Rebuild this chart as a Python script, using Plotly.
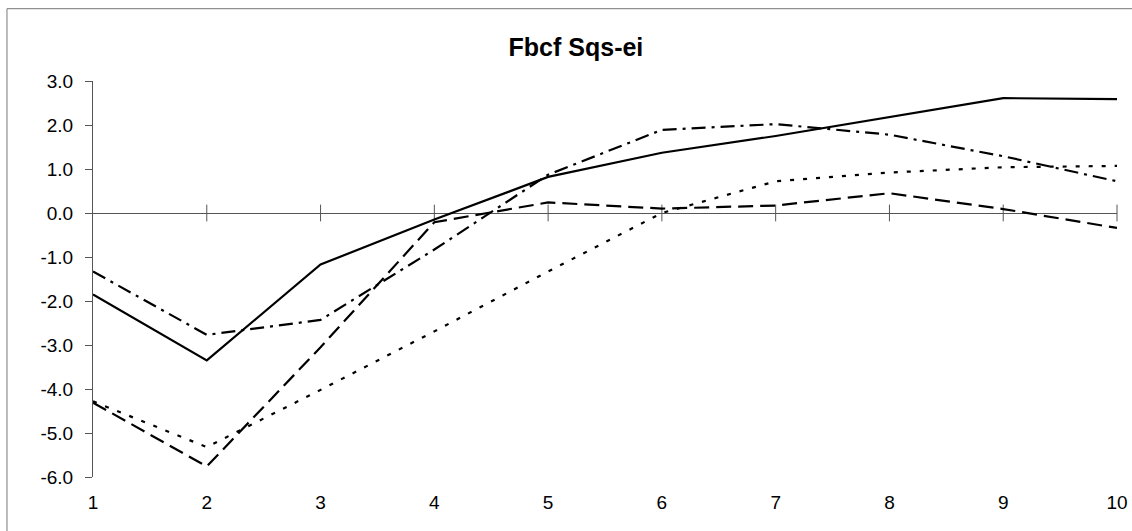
import plotly.graph_objects as go

periods = [1, 2, 3, 4, 5, 6, 7, 8, 9, 10]
solid = [-1.85, -3.35, -1.17, -0.15, 0.82, 1.37, 1.75, 2.18, 2.61, 2.59]
dash_dot = [-1.33, -2.77, -2.43, -0.83, 0.87, 1.89, 2.02, 1.78, 1.29, 0.72]
long_dash = [-4.31, -5.76, -3.05, -0.21, 0.24, 0.10, 0.17, 0.45, 0.09, -0.34]
dotted = [-4.28, -5.32, -4.02, -2.69, -1.33, 0.0, 0.72, 0.92, 1.04, 1.07]
y_ticks = [3, 2, 1, 0, -1, -2, -3, -4, -5, -6]
y_labels = [f"{v:.1f}" for v in y_ticks]

fig = go.Figure()

# ticks sitting on the zero line
fig.add_trace(go.Scatter(x=periods[1:], y=[0] * 9, mode="markers", cliponaxis=False,
                         marker=dict(symbol="line-ns", size=12, line=dict(color="#555", width=1)),
                         hoverinfo="skip", showlegend=False))

styles = [(solid, "solid"), (dash_dot, "14px,6px,3px,6px"),
          (long_dash, "15px,7px"), (dotted, "4px,9px")]
for vals, dash in styles:
    fig.add_trace(go.Scatter(x=periods, y=vals, mode="lines",
                             line=dict(color="black", width=2.2, dash=dash),
                             showlegend=False))

fig.update_layout(
    width=1132, height=531,
    margin=dict(l=93, r=15, t=81, b=54),
    paper_bgcolor="white", plot_bgcolor="white",
    font=dict(family="Liberation Sans, Arial", size=19, color="black"),
    title=dict(text="<b>Fbcf Sqs-ei</b>", xref="container", x=0.5088, xanchor="center",
               yref="container", y=1 - 47 / 531, yanchor="middle",
               font=dict(size=25, color="black")),
    xaxis=dict(range=[1, 10], tickvals=periods, showgrid=False, zeroline=False,
               showline=False, ticks="", ticklabelstandoff=12, ticklabeloverflow="allow",
               automargin=False),
    yaxis=dict(range=[-6, 3], tickvals=y_ticks, ticktext=y_labels, showgrid=False,
               zeroline=True, zerolinecolor="#555", zerolinewidth=1,
               showline=True, linecolor="#555", linewidth=1,
               ticks="outside", ticklen=7, tickcolor="#555", ticklabelstandoff=8,
               automargin=False),
)

# outer frame of the scanned chart
fig.add_shape(type="rect", xref="paper", yref="paper",
              x0=-0.084, x1=1.03, y0=-0.2, y1=1.1826,
              line=dict(color="#777", width=1), layer="below")

# drop the default page margin so the figure sits at the window corner
fig.write_html("out.html", config={"displayModeBar": False},
               post_script="document.body.style.margin='0';document.body.style.overflow='hidden';")
